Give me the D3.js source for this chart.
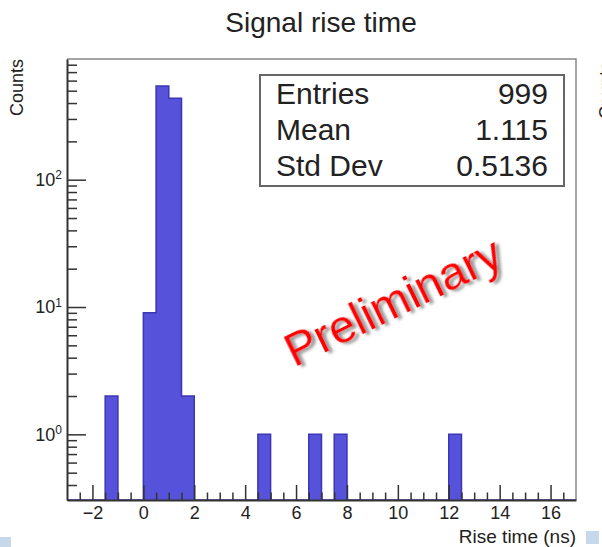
<!DOCTYPE html>
<html>
<head>
<meta charset="utf-8">
<script src="https://cdn.jsdelivr.net/npm/d3@7"></script>
<style>
  body { margin: 0; background: #fff; }
  svg { display: block; font-family: "Liberation Sans", Arial, sans-serif; }
</style>
</head>
<body>
<div id="hist"></div>
<script>
// filled bins of the rise time histogram (lower edge, ns) and their counts
var binLow = [-1.5, 0.0, 0.5, 1.0, 1.5, 4.5, 6.5, 7.5, 12.0];
var binCounts = [2, 9, 545, 437, 2, 1, 1, 1, 1];
var binWidth = 0.5;

var xMajor = [-2, 0, 2, 4, 6, 8, 10, 12, 14, 16];
var yMajor = [1, 10, 100];

var statNames = ["Entries", "Mean", "Std Dev"];
var statValues = ["999", "1.115", "0.5136"];

var W = 602, H = 547;
var frame = { left: 67, right: 576, top: 59, bottom: 500 };

var svg = d3.select("#hist").append("svg")
  .attr("width", W)
  .attr("height", H);

var x = d3.scaleLinear().domain([-3, 17]).range([frame.left, frame.right]);
var y = d3.scaleLog().domain([0.305, 887]).range([frame.bottom, frame.top]);

// histogram as one step shape over all bins
var steps = [];
for (var e = -3; e < 17; e += binWidth) {
  var k = binLow.indexOf(e);
  steps.push([e, k >= 0 ? binCounts[k] : 0]);
}
steps.push([17, 0]);

var yv = function(d) { return d[1] > 0 ? y(d[1]) : frame.bottom; };

var area = d3.area()
  .x(function(d) { return x(d[0]); })
  .y0(frame.bottom)
  .y1(yv)
  .curve(d3.curveStepAfter);

var outline = d3.line()
  .x(function(d) { return x(d[0]); })
  .y(yv)
  .curve(d3.curveStepAfter);

svg.append("path")
  .datum(steps)
  .attr("d", area)
  .attr("fill", "#5652d9");

svg.append("path")
  .datum(steps)
  .attr("d", outline)
  .attr("fill", "none")
  .attr("stroke", "#3b37b4")
  .attr("stroke-width", 1.5);

// frame top and right
svg.append("path")
  .attr("d", "M" + frame.left + "," + frame.top + "H" + frame.right + "V" + frame.bottom)
  .attr("fill", "none")
  .attr("stroke", "#888")
  .attr("stroke-width", 1.5);

// x axis: minor ticks every 0.5, major every 2
var xMinor = d3.range(-2.5, 17, 0.5).filter(function(v) { return xMajor.indexOf(v) < 0; });

svg.append("g")
  .attr("transform", "translate(0," + frame.bottom + ")")
  .call(d3.axisBottom(x).tickValues(xMinor).tickSize(-7.5).tickFormat(""))
  .call(function(g) { g.select(".domain").remove(); });

var gx = svg.append("g")
  .attr("transform", "translate(0," + frame.bottom + ")")
  .call(d3.axisBottom(x).tickValues(xMajor).tickSize(-15).tickSizeOuter(0).tickPadding(6));

// y axis: log decades with minor ticks 2..9
var yMinor = [];
[0.1, 1, 10, 100].forEach(function(dec) {
  for (var m = 2; m <= 9; m++) {
    var v = m * dec;
    if (v >= 0.305 && v <= 887) yMinor.push(v);
  }
});

svg.append("g")
  .attr("transform", "translate(" + frame.left + ",0)")
  .call(d3.axisLeft(y).tickValues(yMinor).tickSize(-10).tickFormat(""))
  .call(function(g) { g.select(".domain").remove(); });

var gy = svg.append("g")
  .attr("transform", "translate(" + frame.left + ",0)")
  .call(d3.axisLeft(y).tickValues(yMajor).tickSize(-19).tickSizeOuter(0).tickPadding(5));

gy.selectAll(".tick text").each(function(d) {
  var t = d3.select(this).text("");
  t.append("tspan").text("10");
  t.append("tspan")
    .attr("dy", "-0.55em")
    .attr("font-size", 12)
    .text(Math.round(Math.log10(d)));
});

svg.selectAll(".domain, .tick line")
  .attr("stroke", "#333")
  .attr("stroke-width", 1.5);
gx.select(".domain").attr("stroke-width", 2);
gy.select(".domain").attr("stroke-width", 2);

gx.selectAll(".tick text")
  .attr("font-size", 18)
  .attr("fill", "#222")
  .attr("font-family", "Liberation Sans, Arial, sans-serif");
gy.selectAll(".tick text")
  .attr("font-size", 18)
  .attr("fill", "#222")
  .attr("font-family", "Liberation Sans, Arial, sans-serif");

// titles
svg.append("text")
  .attr("x", 321)
  .attr("y", 32)
  .attr("text-anchor", "middle")
  .attr("font-size", 28)
  .attr("fill", "#222")
  .text("Signal rise time");

svg.append("text")
  .attr("x", frame.right)
  .attr("y", 543)
  .attr("text-anchor", "end")
  .attr("font-size", 19)
  .attr("fill", "#222")
  .text("Rise time (ns)");

svg.append("text")
  .attr("transform", "translate(23," + frame.top + ") rotate(-90)")
  .attr("text-anchor", "end")
  .attr("font-size", 18)
  .attr("fill", "#222")
  .text("Counts");

// neighbouring pad's y title, cut by the edge
svg.append("text")
  .attr("transform", "translate(612," + (frame.top + 3) + ") rotate(-90)")
  .attr("text-anchor", "end")
  .attr("font-size", 18)
  .attr("fill", "#222")
  .text("Counts");

// statistics box
svg.append("rect")
  .attr("x", 260)
  .attr("y", 75)
  .attr("width", 304)
  .attr("height", 111)
  .attr("fill", "#fff")
  .attr("stroke", "#666")
  .attr("stroke-width", 2);

var rowY = d3.scalePoint().domain(statNames).range([104, 176]);

svg.selectAll(".stat-name")
  .data(statNames)
  .enter().append("text")
  .attr("class", "stat-name")
  .attr("x", 276)
  .attr("y", function(d) { return rowY(d); })
  .attr("font-size", 30)
  .attr("fill", "#222")
  .text(function(d) { return d; });

svg.selectAll(".stat-value")
  .data(statValues)
  .enter().append("text")
  .attr("class", "stat-value")
  .attr("x", 548)
  .attr("y", function(d, i) { return rowY(statNames[i]); })
  .attr("text-anchor", "end")
  .attr("font-size", 30)
  .attr("fill", "#222")
  .text(function(d) { return d; });

// watermark
var defs = svg.append("defs");
var sh = defs.append("filter").attr("id", "shadow")
  .attr("x", "-10%").attr("y", "-20%").attr("width", "130%").attr("height", "150%");
sh.append("feDropShadow")
  .attr("dx", 3).attr("dy", 3)
  .attr("stdDeviation", 1.5)
  .attr("flood-color", "#777")
  .attr("flood-opacity", 0.8);

svg.append("text")
  .attr("transform", "translate(400,316) rotate(-26)")
  .attr("text-anchor", "middle")
  .attr("font-size", 47)
  .attr("fill", "#ff0000")
  .attr("filter", "url(#shadow)")
  .text("Preliminary");

// small page markers in the corners
svg.append("rect").attr("x", 0).attr("y", 537).attr("width", 11).attr("height", 10).attr("fill", "#c7d8eb");
svg.append("rect").attr("x", 586).attr("y", 531).attr("width", 13).attr("height", 13).attr("fill", "#c7d8eb");
</script>
</body>
</html>
